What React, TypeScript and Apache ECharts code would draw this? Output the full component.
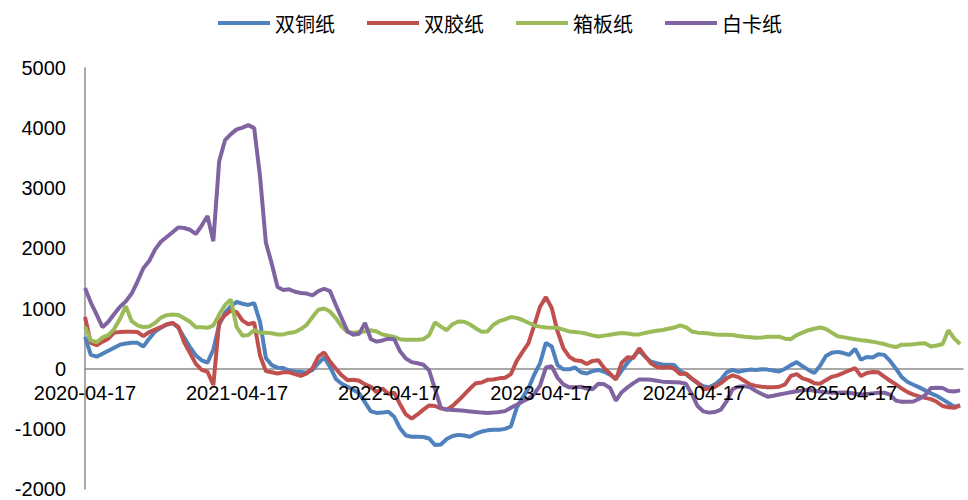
import React, { useEffect, useRef } from "react";
import * as echarts from "echarts";

const seriesNames = ["双铜纸", "双胶纸", "箱板纸", "白卡纸"];
const colors = ["#4F81BD", "#C0504D", "#9BBB59", "#8064A2"];
const xTickLabels = ["2020-04-17", "2021-04-17", "2022-04-17", "2023-04-17", "2024-04-17", "2025-04-17"];
const yTicks = { min: -2000, max: 5000, interval: 1000 };

// sampled every 14 days from 2020-04-17
const startDate = "2020-04-17";
const stepDays = 14;
const axisEndDate = "2026-01-23";

const shuangTong = [
  530, 230, 200, 250, 300, 350, 400, 420, 430, 430, 370, 500, 620, 680, 730, 760, 680, 520, 360, 220,
  140, 100, 320, 730, 930, 1040, 1110, 1080, 1060, 1090, 780, 180, 60, 17, 10, -30, -50, -55, -65, -20,
  90, 190, 30, -170, -250, -300, -350, -410, -560, -710, -735, -730, -715, -800, -990, -1110, -1130, -1130, -1135, -1160,
  -1270, -1260, -1170, -1120, -1100, -1110, -1130, -1080, -1045, -1025, -1014, -1014, -1000, -960, -650, -480, -330, -100, 90, 430,
  370, 60, -10, -10, 20, -60, -80, -40, -20, -50, -100, -170, -30, 100, 200, 300, 200, 116, 90, 70,
  67, 60, -40, -90, -170, -240, -290, -310, -260, -180, -60, -20, -50, -30, -15, -20, -10, -15, -30, -45,
  0, 60, 110, 40, -20, -70, 50, 210, 266, 280, 260, 230, 330, 150, 195, 185, 240, 230, 130, 0,
  -140, -220, -266, -310, -360, -410, -450, -510, -570, -630, -610,
];

const shuangJiao = [
  860, 430, 390, 450, 500, 600, 610, 615, 615, 610, 540, 610, 650, 690, 740, 760, 700, 440, 260, 80,
  -20, -50, -270, 780, 890, 970, 940, 800, 740, 765, 220, -40, -60, -80, -60, -60, -90, -120, -80, 10,
  200, 270, 120, 0, -110, -190, -185, -200, -260, -300, -390, -330, -420, -400, -590, -760, -830, -760, -680, -610,
  -620, -660, -680, -620, -530, -430, -330, -240, -230, -185, -180, -160, -150, -90, 130, 280, 420, 720, 1030, 1190,
  1010, 620, 340, 200, 140, 130, 80, 130, 140, 10, -80, -180, 100, 190, 180, 340, 210, 90, 30, 15,
  30, 0, -90, -80, -160, -230, -340, -330, -300, -240, -160, -110, -140, -200, -260, -285, -300, -310, -310, -300,
  -260, -120, -90, -160, -190, -240, -250, -190, -135, -110, -70, -30, 10, -120, -70, -55, -60, -133, -200, -260,
  -330, -390, -430, -460, -485, -505, -550, -620, -640, -650, -610,
];

const xiangBan = [
  700, 470, 440, 520, 560, 660, 830, 1040, 790, 720, 690, 700, 760, 850, 890, 900, 895, 840, 780, 690,
  690, 680, 720, 900, 1060, 1150, 690, 550, 560, 640, 600, 600, 590, 570, 570, 595, 610, 660, 730, 860,
  980, 1000, 950, 840, 700, 610, 600, 610, 620, 640, 620, 570, 550, 530, 490, 482, 480, 482, 490, 560,
  770, 700, 640, 740, 785, 780, 735, 670, 615, 620, 730, 790, 820, 860, 845, 810, 765, 720, 700, 685,
  680, 680, 650, 620, 610, 600, 580, 555, 535, 550, 565, 580, 595, 585, 570, 570, 595, 615, 630, 645,
  665, 685, 720, 690, 620, 600, 595, 585, 570, 565, 565, 560, 545, 532, 525, 515, 520, 530, 532, 532,
  500, 490, 560, 600, 640, 665, 685, 660, 600, 540, 525, 505, 490, 475, 465, 450, 430, 410, 380, 360,
  400, 400, 405, 420, 425, 370, 385, 410, 640, 500, 410,
];

const baiKa = [
  1340, 1100, 900, 690, 780, 910, 1030, 1120, 1250, 1450, 1670, 1790, 1980, 2110, 2190, 2270, 2350, 2340, 2310, 2240,
  2380, 2540, 2120, 3450, 3800, 3900, 3980, 4010, 4050, 4000, 3200, 2100, 1750, 1360, 1310, 1320, 1280, 1260, 1250, 1220,
  1290, 1330, 1290, 1060, 840, 620, 565, 580, 760, 490, 450, 470, 500, 490, 290, 170, 110, 90, 67, -30,
  -340, -650, -680, -685, -690, -700, -710, -720, -730, -735, -730, -720, -705, -650, -600, -545, -500, -420, -280, 20,
  40, -150, -260, -310, -310, -300, -330, -340, -250, -260, -320, -530, -390, -310, -240, -180, -180, -185, -200, -215,
  -220, -225, -230, -250, -420, -620, -710, -730, -720, -680, -540, -340, -300, -290, -310, -370, -420, -465, -450, -430,
  -410, -390, -375, -360, -350, -365, -380, -390, -400, -400, -395, -400, -415, -430, -420, -410, -400, -400, -430, -530,
  -550, -550, -545, -500, -440, -320, -315, -320, -370, -380, -360,
];

const seriesValues = [shuangTong, shuangJiao, xiangBan, baiKa];

const DAY = 86400000;
function parseDate(s: string) {
  const [y, m, d] = s.split("-").map(Number);
  return Date.UTC(y, m - 1, d);
}
function fmt(t: number) {
  const d = new Date(t);
  const p = (n: number) => (n < 10 ? "0" + n : "" + n);
  return d.getUTCFullYear() + "-" + p(d.getUTCMonth() + 1) + "-" + p(d.getUTCDate());
}

const W = 968;
const H = 500;
const GRID = { left: 85, right: 5, top: 68, bottom: 11 };

export default function App() {
  const ref = useRef<HTMLDivElement>(null);
  useEffect(() => {
    if (!ref.current) return;
    const chart = echarts.init(ref.current, null, { renderer: "svg" });
    const t0 = parseDate(startDate);
    const dayOf = (s: string) => Math.round((parseDate(s) - t0) / DAY);
    const tickDays = xTickLabels.map(dayOf);
    const xMax = dayOf(axisEndDate);
    const font = "'Liberation Sans', Arial, sans-serif";
    // move the x axis (line and labels) up to the y = 0 level
    const plotH = H - GRID.top - GRID.bottom;
    const zeroOffset = -plotH * (0 - yTicks.min) / (yTicks.max - yTicks.min);
    const labelStyle = {
      customValues: tickDays,
      formatter: (v: number) => fmt(t0 + v * DAY),
      fontSize: 20,
      color: "#000",
      fontFamily: font,
      margin: 14,
      showMinLabel: true,
      hideOverlap: false,
    };
    chart.setOption({
      animation: false,
      backgroundColor: "#ffffff",
      legend: {
        top: 8,
        left: 213,
        icon: "rect",
        itemWidth: 52,
        itemHeight: 4,
        itemGap: 32,
        textStyle: { fontSize: 20, color: "#000", fontFamily: "'Noto Sans CJK SC', sans-serif" },
        data: seriesNames,
      },
      grid: { ...GRID, containLabel: false },
      xAxis: [
        {
          type: "value",
          min: 0,
          max: xMax,
          position: "bottom",
          offset: zeroOffset,
          axisLine: { onZero: false, lineStyle: { color: "#8c8c8c", width: 1.5 } },
          axisTick: { show: false },
          splitLine: { show: false },
          axisLabel: { show: false },
        },
        {
          type: "value",
          min: 0,
          max: xMax,
          position: "bottom",
          offset: zeroOffset,
          z: 5,
          axisLine: { show: false, onZero: false },
          axisTick: { show: false },
          splitLine: { show: false },
          axisLabel: labelStyle,
        },
      ],
      yAxis: {
        type: "value",
        min: yTicks.min,
        max: yTicks.max,
        interval: yTicks.interval,
        axisLine: { show: true, onZero: false, lineStyle: { color: "#8c8c8c", width: 1.5 } },
        axisTick: { show: false },
        splitLine: { show: false },
        axisLabel: {
          fontSize: 20,
          color: "#000",
          fontFamily: font,
          margin: 19,
          formatter: (v: number) => String(v),
        },
      },
      series: seriesNames.map((name, k) => ({
        name,
        type: "line",
        xAxisIndex: 0,
        showSymbol: false,
        symbol: "none",
        data: seriesValues[k].map((v, i) => [i * stepDays, v]),
        lineStyle: { color: colors[k], width: 4 },
        itemStyle: { color: colors[k] },
      })),
    });
    return () => chart.dispose();
  }, []);
  return (
    <div
      ref={ref}
      style={{ position: "absolute", left: 0, top: 0, width: W, height: H, background: "#fff" }}
    />
  );
}
